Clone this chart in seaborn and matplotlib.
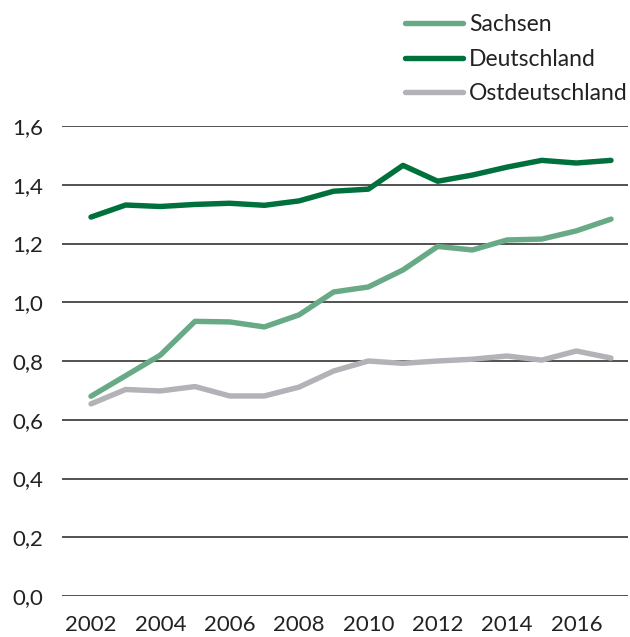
import numpy as np
import pandas as pd
import matplotlib
matplotlib.use("Agg")
import matplotlib.pyplot as plt
import seaborn as sns
from matplotlib.ticker import FuncFormatter

years = list(range(2002, 2018))
sachsen = [0.68, 0.75, 0.82, 0.935, 0.933, 0.916, 0.957, 1.035, 1.052, 1.11, 1.19, 1.178, 1.212, 1.215, 1.243, 1.283]
deutschland = [1.29, 1.331, 1.326, 1.333, 1.337, 1.33, 1.345, 1.378, 1.385, 1.466, 1.412, 1.433, 1.46, 1.483, 1.474, 1.483]
ost = [0.654, 0.703, 0.698, 0.713, 0.681, 0.681, 0.711, 0.766, 0.8, 0.792, 0.8, 0.806, 0.817, 0.803, 0.834, 0.81]
series_names = ["Sachsen", "Deutschland", "Ostdeutschland"]
colors = ["#68aa85", "#00703c", "#b3b3b7"]
y_ticks = [0.0, 0.2, 0.4, 0.6, 0.8, 1.0, 1.2, 1.4, 1.6]
x_ticks = [2002, 2004, 2006, 2008, 2010, 2012, 2014, 2016]

df = pd.DataFrame({
    "Jahr": years * 3,
    "Wert": sachsen + deutschland + ost,
    "Region": [series_names[0]] * len(years) + [series_names[1]] * len(years) + [series_names[2]] * len(years),
})

sns.set_theme(style="white")
plt.rcParams["font.family"] = ["Lato", "DejaVu Sans"]

fig = plt.figure(figsize=(6.30, 6.37), dpi=100)
ax = fig.add_axes([62/630, 1-596/637, (628-62)/630, (596-126)/637])

for y in y_ticks:
    ax.axhline(y, color="#333333", lw=1.2, zorder=1)

sns.lineplot(data=df, x="Jahr", y="Wert", hue="Region", hue_order=series_names,
             palette=colors, linewidth=3.9, ax=ax, legend=True, zorder=3)
for line in ax.get_lines():
    line.set_solid_capstyle("round")
    line.set_solid_joinstyle("round")

ax.set_ylim(0, 1.6)
ax.set_xlim(2002 - 29/34.67, 2017 + 17/34.67)
ax.set_yticks(y_ticks)
ax.set_xticks(x_ticks)
ax.yaxis.set_major_formatter(FuncFormatter(lambda v, p: f"{v:.1f}".replace(".", ",")))
ax.set_xlabel("")
ax.set_ylabel("")
for s in ax.spines.values():
    s.set_visible(False)
ax.tick_params(axis="both", length=0, labelsize=16, colors="#222222")
ax.tick_params(axis="y", pad=13.5)
ax.tick_params(axis="x", pad=14)
ax.grid(False)

handles, labels = ax.get_legend_handles_labels()
ax.get_legend().remove()
for h in handles:
    h.set_solid_capstyle("round")
    h.set_linewidth(3.9)
fig.legend(handles, labels, loc="upper left", bbox_to_anchor=(405/630, 1 - 14/637),
           frameon=False, fontsize=16.5, handlelength=2.55, handletextpad=0.23,
           labelspacing=0.6, borderpad=0, borderaxespad=0, labelcolor="#222222")

fig.savefig("out.png", dpi=100)
